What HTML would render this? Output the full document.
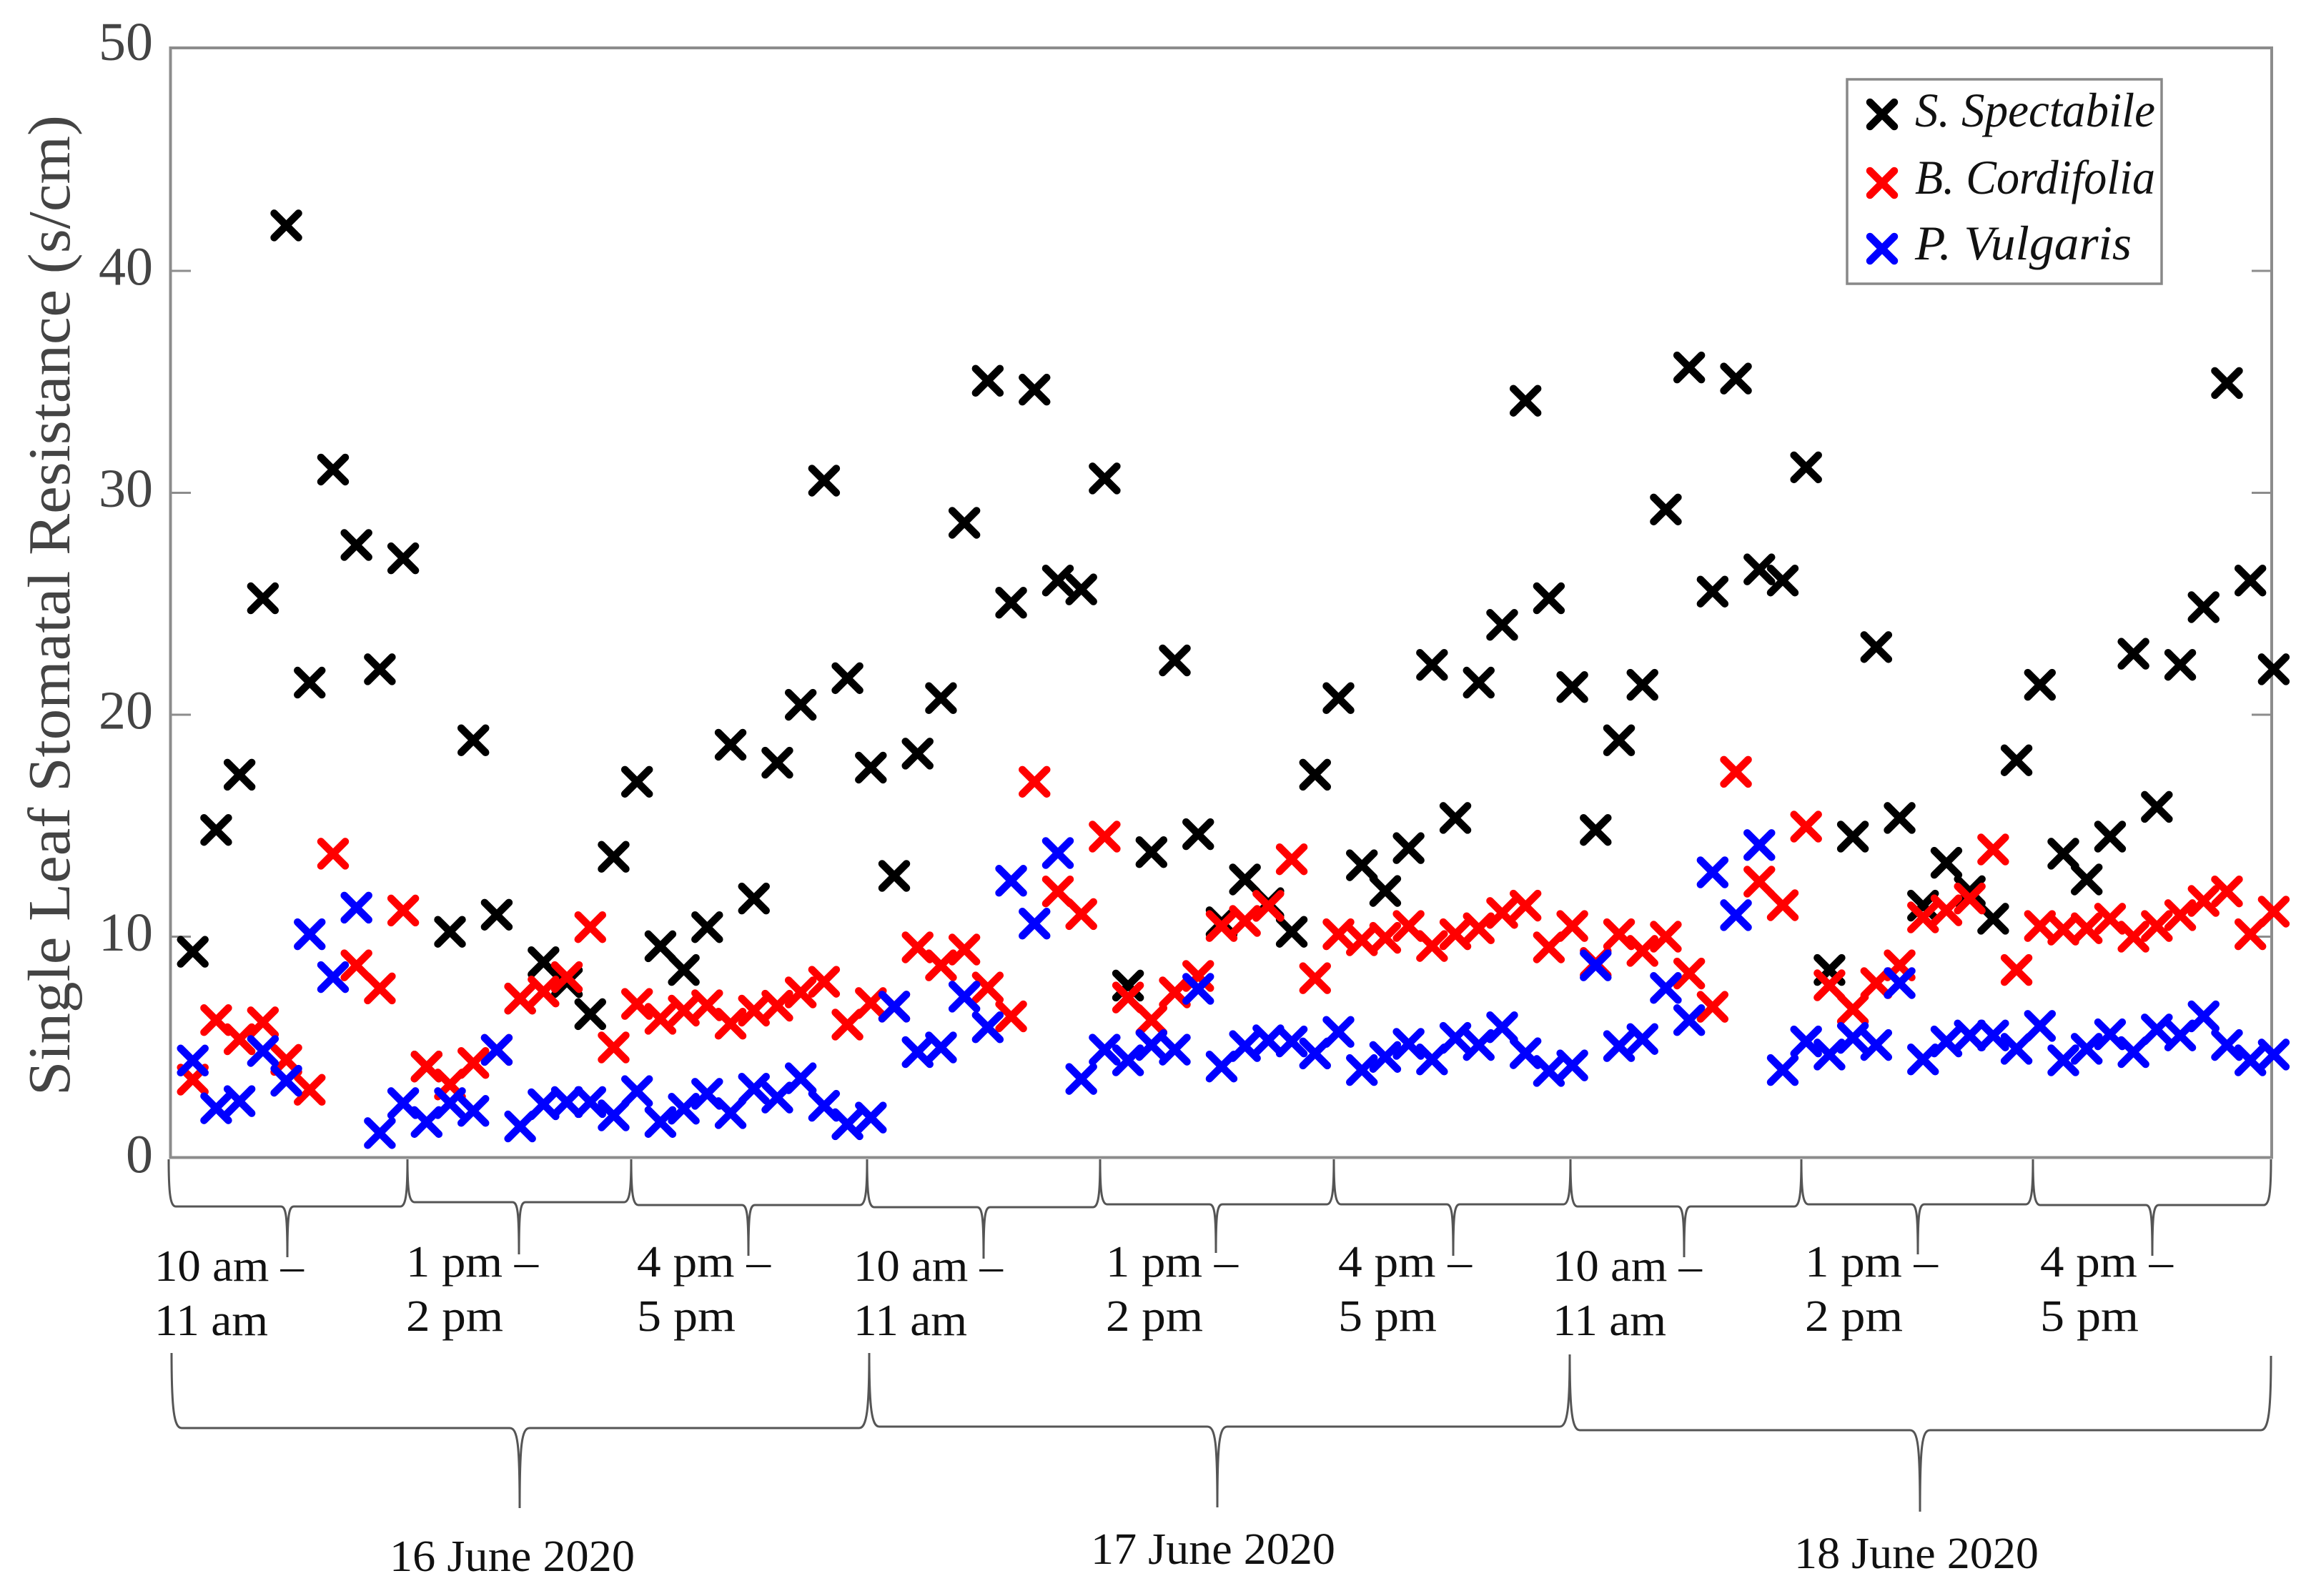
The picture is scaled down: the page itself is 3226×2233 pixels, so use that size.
<!DOCTYPE html>
<html lang="en">
<head>
<meta charset="utf-8">
<title>Single Leaf Stomatal Resistance</title>
<style>
html,body{margin:0;padding:0;background:#fff;}
svg{display:block;}
text{font-family:"Liberation Serif",serif;}
</style>
</head>
<body>
<svg id="chart" xmlns="http://www.w3.org/2000/svg" width="3226" height="2233" viewBox="0 0 3226 2233">
  <rect x="0" y="0" width="3226" height="2233" fill="#fff"/>
  <text transform="translate(97,1533) rotate(-90)" font-size="84" fill="#444" textLength="1372" lengthAdjust="spacingAndGlyphs">Single Leaf Stomatal Resistance (s/cm)</text>
  <g id="axes"></g>
  <g id="marks"></g>
  <g>
    <rect x="2584" y="111" width="440" height="286" fill="#fff" stroke="#888" stroke-width="3.5"/>
    <g id="legend-markers"></g>
    <text x="2679" y="177" font-size="68" font-style="italic" fill="#111" textLength="336" lengthAdjust="spacingAndGlyphs">S. Spectabile</text>
    <text x="2679" y="271" font-size="68" font-style="italic" fill="#111" textLength="336" lengthAdjust="spacingAndGlyphs">B. Cordifolia</text>
    <text x="2679" y="363" font-size="68" font-style="italic" fill="#111" textLength="303" lengthAdjust="spacingAndGlyphs">P. Vulgaris</text>
  </g>
  <g id="braces"></g>
  <g font-size="62" fill="#111">
    <text x="216" y="1792" textLength="209" lengthAdjust="spacingAndGlyphs">10 am –</text>
    <text x="216" y="1868" textLength="159" lengthAdjust="spacingAndGlyphs">11 am</text>
    <text x="568" y="1786" textLength="185" lengthAdjust="spacingAndGlyphs">1 pm –</text>
    <text x="568" y="1862" textLength="136" lengthAdjust="spacingAndGlyphs">2 pm</text>
    <text x="891" y="1786" textLength="187" lengthAdjust="spacingAndGlyphs">4 pm –</text>
    <text x="891" y="1862" textLength="138" lengthAdjust="spacingAndGlyphs">5 pm</text>
    <text x="1194" y="1792" textLength="209" lengthAdjust="spacingAndGlyphs">10 am –</text>
    <text x="1194" y="1868" textLength="159" lengthAdjust="spacingAndGlyphs">11 am</text>
    <text x="1547" y="1786" textLength="185" lengthAdjust="spacingAndGlyphs">1 pm –</text>
    <text x="1547" y="1862" textLength="136" lengthAdjust="spacingAndGlyphs">2 pm</text>
    <text x="1872" y="1786" textLength="187" lengthAdjust="spacingAndGlyphs">4 pm –</text>
    <text x="1872" y="1862" textLength="138" lengthAdjust="spacingAndGlyphs">5 pm</text>
    <text x="2172" y="1792" textLength="209" lengthAdjust="spacingAndGlyphs">10 am –</text>
    <text x="2172" y="1868" textLength="159" lengthAdjust="spacingAndGlyphs">11 am</text>
    <text x="2525" y="1786" textLength="186" lengthAdjust="spacingAndGlyphs">1 pm –</text>
    <text x="2525" y="1862" textLength="137" lengthAdjust="spacingAndGlyphs">2 pm</text>
    <text x="2854" y="1786" textLength="186" lengthAdjust="spacingAndGlyphs">4 pm –</text>
    <text x="2854" y="1862" textLength="138" lengthAdjust="spacingAndGlyphs">5 pm</text>
  </g>
  <g font-size="62" fill="#111">
    <text x="545" y="2198" textLength="343" lengthAdjust="spacingAndGlyphs">16 June 2020</text>
    <text x="1526" y="2188" textLength="342" lengthAdjust="spacingAndGlyphs">17 June 2020</text>
    <text x="2510" y="2194" textLength="342" lengthAdjust="spacingAndGlyphs">18 June 2020</text>
  </g>
</svg>
<script>
var yTickValues = [0, 10, 20, 30, 40, 50];
var seriesSpectabile = [9.27,14.76,17.25,25.2,42,21.4,31,27.6,22,27,4.1,10.17,18.8,10.94,7.16,8.8,7.9,6.46,13.55,16.93,9.52,8.45,10.38,18.6,11.67,17.79,20.4,30.5,21.6,17.57,12.69,18.2,20.7,28.6,35,25,34.6,26,25.6,30.6,7.75,13.76,22.4,14.57,10.6,12.53,11.46,10.17,17.25,20.7,13.17,12.01,13.94,22.2,15.3,21.4,24,34.1,25.2,21.2,14.76,18.8,21.3,29.2,35.6,25.5,35.1,26.5,26,31.1,8.45,14.46,23,15.3,11.35,13.28,12,10.76,17.9,21.3,13.69,12.53,14.46,22.7,15.8,22.2,24.8,34.9,26,22];
var seriesCordifolia = [3.51,6.19,5.33,6.09,4.4,3.05,13.69,8.66,7.62,11.13,4.1,3.29,4.26,4.85,7.16,7.48,8.13,10.38,4.96,6.92,6.25,6.62,6.86,6.03,6.62,6.84,7.44,7.92,5.99,6.96,6.8,9.47,8.66,9.37,7.66,6.36,16.93,11.99,10.97,14.46,7.21,6.19,7.44,8.18,10.43,10.66,11.34,13.44,8.08,10.06,9.79,9.9,10.43,9.53,10.06,10.33,11.02,11.35,9.47,10.43,8.77,10.06,9.31,9.95,8.29,6.79,17.38,12.43,11.37,14.91,7.76,6.68,7.86,8.66,10.82,11.14,11.67,13.88,8.45,10.43,10.27,10.33,10.76,9.95,10.43,10.92,11.56,11.99,10.06,11.08];
var seriesVulgaris = [4.37,2.22,2.54,4.8,3.46,10.06,8.13,11.26,1.1,2.45,1.6,2.45,2.1,4.85,1.4,2.4,2.5,2.5,1.9,2.99,1.6,2.2,2.87,2,3.1,2.7,3.57,2.33,1.5,1.8,6.8,4.75,4.96,7.25,5.87,12.47,10.54,13.72,3.54,4.86,4.38,5.07,4.86,7.6,4.1,5.02,5.28,5.23,4.69,5.66,3.94,4.53,5.12,4.42,5.39,5.07,5.87,4.7,3.9,4.15,8.66,5.02,5.34,7.64,6.19,12.85,10.92,14.08,3.94,5.23,4.64,5.39,5.07,7.86,4.42,5.23,5.5,5.5,4.9,5.93,4.38,4.9,5.55,4.75,5.77,5.5,6.36,5.07,4.38,4.64];

var NS = 'http://www.w3.org/2000/svg';
function xScale(i) { return 237 + 32.71 * i; }
function yScale(v) { return 1619.5 - 31.05 * v; }
function crossPath(cx, cy) {
  var d = 17;
  return 'M' + (cx - d) + ' ' + (cy - d) + 'L' + (cx + d) + ' ' + (cy + d) +
         'M' + (cx - d) + ' ' + (cy + d) + 'L' + (cx + d) + ' ' + (cy - d);
}
function crossElement(cx, cy, color) {
  var p = document.createElementNS(NS, 'path');
  p.setAttribute('d', crossPath(cx, cy));
  p.setAttribute('stroke', color);
  p.setAttribute('stroke-width', '10.5');
  p.setAttribute('stroke-linecap', 'round');
  p.setAttribute('fill', 'none');
  return p;
}

var axes = document.getElementById('axes');
var frame = document.createElementNS(NS, 'rect');


frame.setAttribute('x', '238.5');
frame.setAttribute('y', String(yScale(50)));
frame.setAttribute('width', '2939.5');
frame.setAttribute('height', String(yScale(0) - yScale(50)));
frame.setAttribute('fill', 'none');
frame.setAttribute('stroke', '#8c8c8c');
frame.setAttribute('stroke-width', '4');
axes.appendChild(frame);

yTickValues.forEach(function (v) {
  var y = yScale(v);
  if (v > 0 && v < 50) {
    var left = document.createElementNS(NS, 'line');
    
    
    left.setAttribute('x1', '238.5');
    left.setAttribute('x2', '267');
    left.setAttribute('y1', String(y + 1.5));
    left.setAttribute('y2', String(y + 1.5));
    left.setAttribute('stroke', '#8c8c8c');
    left.setAttribute('stroke-width', '3');
    axes.appendChild(left);
    var right = document.createElementNS(NS, 'line');
    
    
    right.setAttribute('x1', '3178');
    right.setAttribute('x2', '3150');
    right.setAttribute('y1', String(y + 1.5));
    right.setAttribute('y2', String(y + 1.5));
    right.setAttribute('stroke', '#8c8c8c');
    right.setAttribute('stroke-width', '3');
    axes.appendChild(right);
  }
  var t = document.createElementNS(NS, 'text');
  
  
  t.setAttribute('x', '214');
  t.setAttribute('y', String(y + (v === 50 ? 17 : 21)));
  t.setAttribute('text-anchor', 'end');
  t.setAttribute('font-size', '76');
  t.setAttribute('fill', '#444');
  t.textContent = String(v);
  axes.appendChild(t);
});

var marks = document.getElementById('marks');
function drawSeries(values, color, name) {
  var g = document.createElementNS(NS, 'g');
  
  
  values.forEach(function (v, idx) {
    var m = crossElement(xScale(idx + 1), yScale(v), color);
    
    
    g.appendChild(m);
  });
  marks.appendChild(g);
}
drawSeries(seriesSpectabile, '#000000', 'series-s-spectabile');
drawSeries(seriesCordifolia, '#ff0000', 'series-b-cordifolia');
drawSeries(seriesVulgaris, '#0000ff', 'series-p-vulgaris');

var legendMarkers = document.getElementById('legend-markers');
var lm1 = crossElement(2633, 160, '#000000');


legendMarkers.appendChild(lm1);
var lm2 = crossElement(2633, 256, '#ff0000');


legendMarkers.appendChild(lm2);
var lm3 = crossElement(2633, 348, '#0000ff');


legendMarkers.appendChild(lm3);

var braces = document.getElementById('braces');
function bracePath(x0, x1, xt, yL, yR, yF, yT, r, rt) {
  return 'M' + x0 + ' ' + yL +
    'C' + x0 + ' ' + (yF - (yF - yL) * 0.25) + ' ' + (x0 + r * 0.25) + ' ' + yF + ' ' + (x0 + r) + ' ' + yF +
    'L' + (xt - rt) + ' ' + yF +
    'C' + (xt - rt * 0.2) + ' ' + yF + ' ' + xt + ' ' + (yF + (yT - yF) * 0.2) + ' ' + xt + ' ' + yT +
    'C' + xt + ' ' + (yF + (yT - yF) * 0.2) + ' ' + (xt + rt * 0.2) + ' ' + yF + ' ' + (xt + rt) + ' ' + yF +
    'L' + (x1 - r) + ' ' + yF +
    'C' + (x1 - r * 0.25) + ' ' + yF + ' ' + x1 + ' ' + (yF - (yF - yR) * 0.25) + ' ' + x1 + ' ' + yR;
}
function addBrace(d, width) {
  var p = document.createElementNS(NS, 'path');
  p.setAttribute('d', d);
  p.setAttribute('fill', 'none');
  p.setAttribute('stroke', '#555');
  p.setAttribute('stroke-width', String(width));
  return p;
}
var b;
b = addBrace(bracePath(236, 570, 402, 1622, 1622, 1688, 1759, 10, 9), 3);


braces.appendChild(b);
b = addBrace(bracePath(570, 883, 726, 1622, 1622, 1682, 1755, 10, 9), 3);


braces.appendChild(b);
b = addBrace(bracePath(883, 1213, 1047, 1622, 1622, 1686, 1757, 10, 9), 3);


braces.appendChild(b);
b = addBrace(bracePath(1213, 1539, 1376, 1622, 1622, 1689, 1761, 10, 9), 3);


braces.appendChild(b);
b = addBrace(bracePath(1539, 1866, 1701, 1622, 1622, 1685, 1753, 10, 9), 3);


braces.appendChild(b);
b = addBrace(bracePath(1866, 2197, 2033, 1622, 1622, 1685, 1757, 10, 9), 3);


braces.appendChild(b);
b = addBrace(bracePath(2197, 2520, 2356, 1622, 1622, 1688, 1759, 10, 9), 3);


braces.appendChild(b);
b = addBrace(bracePath(2520, 2844, 2683, 1622, 1622, 1685, 1755, 10, 9), 3);


braces.appendChild(b);
b = addBrace(bracePath(2844, 3177, 3011, 1622, 1622, 1686, 1757, 10, 9), 3);


braces.appendChild(b);
b = addBrace(bracePath(240, 1216, 727, 1893, 1893, 1998, 2110, 14, 14), 3);


braces.appendChild(b);
b = addBrace(bracePath(1216, 2196, 1703, 1893, 1895, 1996, 2109, 14, 14), 3);


braces.appendChild(b);
b = addBrace(bracePath(2196, 3177, 2686, 1895, 1897, 2001, 2115, 14, 14), 3);


braces.appendChild(b);
</script>
</body>
</html>
